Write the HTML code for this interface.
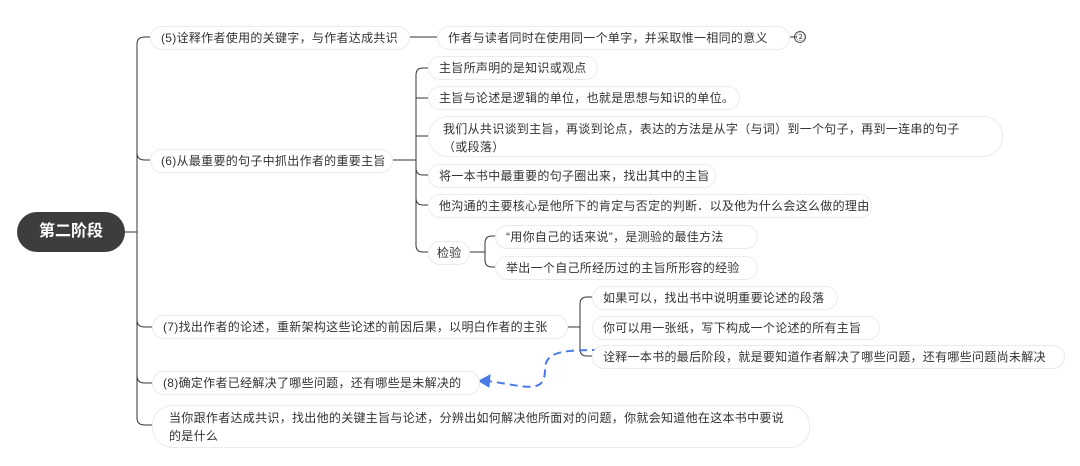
<!DOCTYPE html>
<html><head><meta charset="utf-8"><style>
body{margin:0;width:1080px;height:466px;background:#fff;position:relative;overflow:hidden;font-family:"Liberation Sans","Noto Sans CJK SC",sans-serif;}
.n{position:absolute;border:1px solid #ebebeb;border-radius:13px;font-size:12px;color:#333;line-height:22px;padding:0 10px;box-sizing:border-box;white-space:nowrap;background:#fff;letter-spacing:0.3px}
.m{white-space:normal;line-height:18px;padding:3px 14px;border-radius:20px}
.root{position:absolute;left:17px;top:212px;width:108px;height:40px;border-radius:20px;background:#3d3d3d;color:#fff;font-size:16px;font-weight:bold;line-height:40px;text-align:center}
svg{position:absolute;left:0;top:0}
</style></head><body>
<svg width="1080" height="466" fill="none" stroke="#333" stroke-width="1">
<path d="M125 232H137"/>
<path d="M137 44V418"/>
<path d="M137 44Q137 37 145 37H150"/>
<path d="M137 153Q137 160 145 160H150"/>
<path d="M137 320Q137 327 145 327H152"/>
<path d="M137 376Q137 383 145 383H152"/>
<path d="M137 418Q137 425 145 425H152"/>
<path d="M410 37H437"/>
<path d="M790 37H797"/>
<circle cx="800" cy="37" r="5.5" stroke-width="0.8"/>
<path d="M393 160H416"/>
<path d="M416 75V245"/>
<path d="M416 75Q416 68 423 68H428"/>
<path d="M416 98H428"/>
<path d="M416 136H428"/>
<path d="M416 168Q416 175 423 175H428"/>
<path d="M416 198Q416 205 423 205H428"/>
<path d="M416 245Q416 252 423 252H428"/>
<path d="M470 252H485"/>
<path d="M485 243V260"/>
<path d="M485 243Q485 236 492 236H495"/>
<path d="M485 260Q485 267 492 267H495"/>
<path d="M568 327H580"/>
<path d="M580 304V349"/>
<path d="M580 304Q580 297 587 297H592"/>
<path d="M580 349Q580 356 587 356H592"/>
<path d="M600 350C560 350 545 352 545 370C545 395 525 386 488 381" stroke="#4a7be8" stroke-width="2" stroke-dasharray="8,5"/>
<path d="M479 381L490 375L489 387Z" fill="#4a7be8" stroke="#4a7be8"/>
</svg>
<div class="root">第二阶段</div>
<div class="n" style="left:150px;top:26px;width:260px">(5)诠释作者使用的关键字，与作者达成共识</div>
<div class="n" style="left:437px;top:26px;width:353px">作者与读者同时在使用同一个单字，并采取惟一相同的意义</div>
<div style="position:absolute;left:796px;top:30px;font-size:9px;color:#333">②</div>
<div class="n" style="left:150px;top:149px;width:243px">(6)从最重要的句子中抓出作者的重要主旨</div>
<div class="n" style="left:428px;top:56px;width:170px">主旨所声明的是知识或观点</div>
<div class="n" style="left:428px;top:86px;width:312px">主旨与论述是逻辑的单位，也就是思想与知识的单位。</div>
<div class="n m" style="left:428px;top:116px;width:575px;height:41px">我们从共识谈到主旨，再谈到论点，表达的方法是从字（与词）到一个句子，再到一连串的句子<br>（或段落）</div>
<div class="n" style="left:428px;top:164px;width:288px">将一本书中最重要的句子圈出来，找出其中的主旨</div>
<div class="n" style="left:428px;top:194px;width:444px">他沟通的主要核心是他所下的肯定与否定的判断．以及他为什么会这么做的理由</div>
<div class="n" style="left:428px;top:241px;width:42px;padding:0 8px">检验</div>
<div class="n" style="left:495px;top:225px;width:263px">“用你自己的话来说”，是测验的最佳方法</div>
<div class="n" style="left:495px;top:256px;width:263px">举出一个自己所经历过的主旨所形容的经验</div>
<div class="n" style="left:152px;top:315px;width:416px">(7)找出作者的论述，重新架构这些论述的前因后果，以明白作者的主张</div>
<div class="n" style="left:592px;top:286px;width:246px">如果可以，找出书中说明重要论述的段落</div>
<div class="n" style="left:592px;top:316px;width:288px">你可以用一张纸，写下构成一个论述的所有主旨</div>
<div class="n" style="left:592px;top:345px;width:473px">诠释一本书的最后阶段，就是要知道作者解决了哪些问题，还有哪些问题尚未解决</div>
<div class="n" style="left:152px;top:371px;width:328px">(8)确定作者已经解决了哪些问题，还有哪些是未解决的</div>
<div class="n m" style="left:152px;top:405px;width:658px;height:43px;padding:3px 16px">当你跟作者达成共识，找出他的关键主旨与论述，分辨出如何解决他所面对的问题，你就会知道他在这本书中要说<br>的是什么</div>
</body></html>
